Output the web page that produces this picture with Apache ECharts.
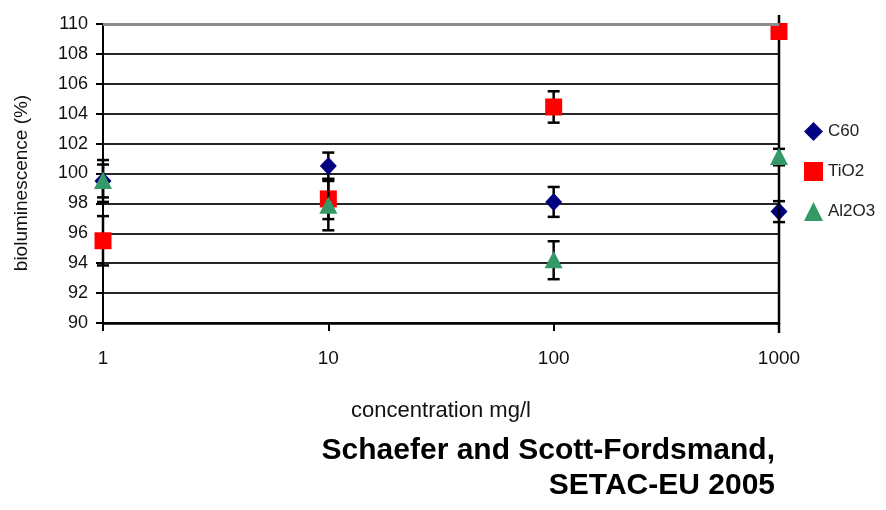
<!DOCTYPE html>
<html>
<head>
<meta charset="utf-8">
<script src="https://cdn.jsdelivr.net/npm/echarts@6/dist/echarts.min.js"></script>
<style>
  html, body { margin: 0; padding: 0; background: #ffffff; }
  #chart { width: 886px; height: 510px; }
</style>
</head>
<body>
<div id="chart"></div>
<script>
// Concentrations (mg/l) on a logarithmic axis
const concentrations = [1, 10, 100, 1000];
const xTickLabels = ['1', '10', '100', '1000'];

// Bioluminescence (%) means and error half-widths per material
const c60 = [99.5, 100.5, 98.1, 97.45];
const c60Err = [1.4, 0.9, 1.0, 0.7];
const tio2 = [95.5, 98.3, 104.45, 109.5];
const tio2Err = [1.65, 1.35, 1.05, 21];
const al2o3 = [99.5, 97.85, 94.2, 101.1];
const al2o3Err = [1.1, 1.65, 1.27, 0.55];

const yTicks = [90, 92, 94, 96, 98, 100, 102, 104, 106, 108, 110];

const materials = [
  { name: 'C60', values: c60, errs: c60Err, color: '#000080', icon: 'diamond' },
  { name: 'TiO2', values: tio2, errs: tio2Err, color: '#ff0000', icon: 'rect' },
  { name: 'Al2O3', values: al2o3, errs: al2o3Err, color: '#339966', icon: 'triangle' }
];

function markerShape(kind, cx, cy, color) {
  const style = { fill: color, stroke: null };
  if (kind === 'diamond') {
    return { type: 'polygon', shape: { points: [[cx, cy - 9], [cx + 8.5, cy], [cx, cy + 9], [cx - 8.5, cy]] }, style };
  }
  if (kind === 'rect') {
    return { type: 'rect', shape: { x: cx - 8.5, y: cy - 8.5, width: 17, height: 17 }, style };
  }
  return { type: 'polygon', shape: { points: [[cx, cy - 9.5], [cx + 9, cy + 8], [cx - 9, cy + 8]] }, style };
}

function makeRenderer(kind, color) {
  return function (params, api) {
    const cs = params.coordSys;
    const x = api.value(0), v = api.value(1), e = api.value(2);
    const p = api.coord([x, v]);
    const yHi = api.coord([x, v + e])[1];
    const yLo = api.coord([x, v - e])[1];
    // error bars running off the plot stop just beyond its frame
    const limTop = cs.y - 9, limBottom = cs.y + cs.height + 10;
    const y1 = Math.max(yHi, limTop), y2 = Math.min(yLo, limBottom);
    const barStyle = { stroke: '#000000', lineWidth: 2.5 };
    const children = [
      { type: 'line', shape: { x1: p[0], y1: y1, x2: p[0], y2: y2 }, style: barStyle }
    ];
    if (yHi >= limTop) children.push({ type: 'line', shape: { x1: p[0] - 6, y1: yHi, x2: p[0] + 6, y2: yHi }, style: barStyle });
    if (yLo <= limBottom) children.push({ type: 'line', shape: { x1: p[0] - 6, y1: yLo, x2: p[0] + 6, y2: yLo }, style: barStyle });
    children.push(markerShape(kind, p[0], p[1], color));
    return { type: 'group', children: children };
  };
}

const series = materials.map(function (m) {
  return {
    name: m.name,
    type: 'custom',
    clip: false,
    itemStyle: { color: m.color },
    encode: { x: 0, y: 1 },
    renderItem: makeRenderer(m.icon, m.color),
    data: concentrations.map(function (c, i) { return [c, m.values[i], m.errs[i]]; })
  };
});

// light grey top border of the plot area
series[0].markLine = {
  silent: true,
  symbol: 'none',
  label: { show: false },
  lineStyle: { color: '#8c8c8c', width: 3, type: 'solid' },
  data: [{ yAxis: yTicks[yTicks.length - 1] }]
};

const chart = echarts.init(document.getElementById('chart'), null, { renderer: 'canvas' });
chart.setOption({
  backgroundColor: '#ffffff',
  animation: false,
  grid: { left: 103, top: 24, width: 676, height: 299, containLabel: false },
  xAxis: {
    type: 'log',
    logBase: 10,
    min: concentrations[0],
    max: concentrations[concentrations.length - 1],
    axisLine: { show: true, lineStyle: { color: '#000000', width: 2.5 } },
    axisTick: { show: true, length: 8, lineStyle: { color: '#000000', width: 2 } },
    splitLine: { show: false },
    axisLabel: {
      margin: 26,
      fontSize: 19,
      fontFamily: 'Arial, "Liberation Sans", sans-serif',
      color: '#111111',
      formatter: function (val) {
        const i = concentrations.indexOf(val);
        return i >= 0 ? xTickLabels[i] : '';
      }
    }
  },
  yAxis: {
    type: 'value',
    min: yTicks[0],
    max: yTicks[yTicks.length - 1],
    interval: 2,
    axisLine: { show: true, lineStyle: { color: '#000000', width: 2 } },
    axisTick: { show: true, length: 7, lineStyle: { color: '#000000', width: 2 } },
    splitLine: { show: true, lineStyle: { color: '#262626', width: 2 } },
    axisLabel: {
      margin: 15,
      fontSize: 18,
      fontFamily: 'Arial, "Liberation Sans", sans-serif',
      color: '#111111'
    }
  },
  legend: {
    orient: 'vertical',
    left: 804,
    top: 122,
    padding: 0,
    itemWidth: 19,
    itemHeight: 19,
    itemGap: 21,
    selectedMode: false,
    textStyle: { fontSize: 17, fontFamily: 'Arial, "Liberation Sans", sans-serif', color: '#222222' },
    data: materials.map(function (m) { return { name: m.name, icon: m.icon }; })
  },
  graphic: [
    {
      type: 'text', x: 22, y: 183, rotation: Math.PI / 2,
      style: { text: 'bioluminescence (%)', font: '19px Arial, "Liberation Sans", sans-serif', fill: '#111111', align: 'center', verticalAlign: 'middle', textAlign: 'center', textVerticalAlign: 'middle' }
    },
    {
      type: 'text', x: 441, y: 411,
      style: { text: 'concentration mg/l', font: '22px Arial, "Liberation Sans", sans-serif', fill: '#111111', align: 'center', verticalAlign: 'middle', textAlign: 'center', textVerticalAlign: 'middle' }
    },
    {
      type: 'text', x: 775, y: 451,
      style: { text: 'Schaefer and Scott-Fordsmand,', font: 'bold 30px Arial, "Liberation Sans", sans-serif', fill: '#000000', align: 'right', verticalAlign: 'middle', textAlign: 'right', textVerticalAlign: 'middle' }
    },
    {
      type: 'text', x: 775, y: 486,
      style: { text: 'SETAC-EU 2005', font: 'bold 30px Arial, "Liberation Sans", sans-serif', fill: '#000000', align: 'right', verticalAlign: 'middle', textAlign: 'right', textVerticalAlign: 'middle' }
    }
  ],
  series: series
});
</script>
</body>
</html>
